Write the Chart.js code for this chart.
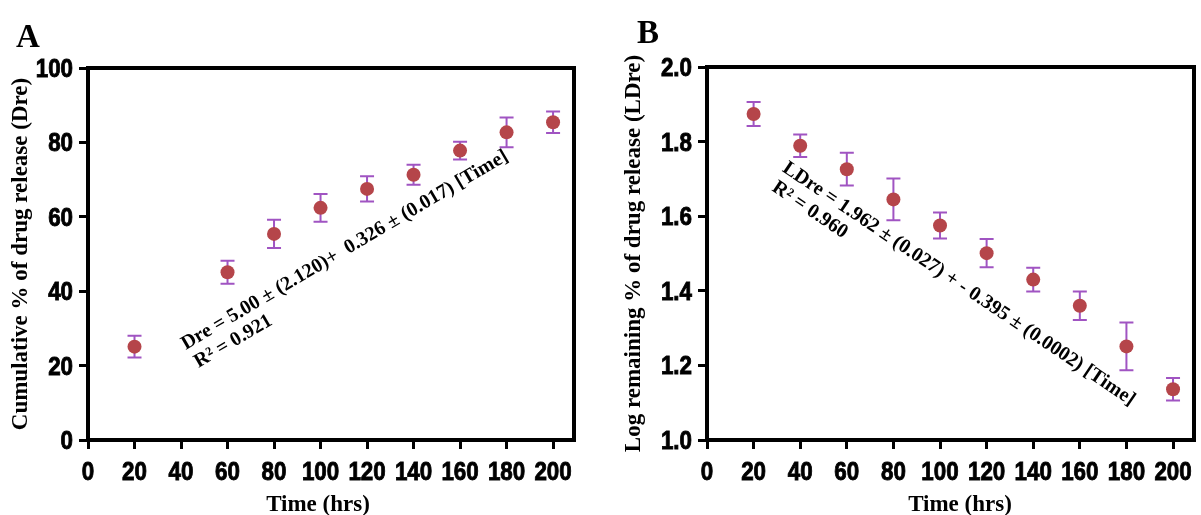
<!DOCTYPE html>
<html>
<head>
<meta charset="utf-8">
<script src="https://cdn.jsdelivr.net/npm/chart.js@4.4.1/dist/chart.umd.min.js"></script>
<style>
  html, body { margin: 0; padding: 0; background: #fff; }
  #wrap { position: relative; width: 1201px; height: 515px; }
  .panel { position: absolute; top: 0; height: 515px; }
  #boxA { left: 0; width: 600px; }
  #boxB { left: 600px; width: 601px; }
</style>
</head>
<body>
<div id="wrap">
  <div class="panel" id="boxA"><canvas id="chartA"></canvas></div>
  <div class="panel" id="boxB"><canvas id="chartB"></canvas></div>
</div>
<script>
// zero order (A) - no sample at 40 hrs
const timeA = [20, 60, 80, 100, 120, 140, 160, 180, 200];
const dreA = [25.1, 45.1, 55.4, 62.4, 67.5, 71.3, 77.8, 82.7, 85.4];
const errA = [2.9, 3.1, 3.8, 3.7, 3.4, 2.7, 2.4, 4.0, 2.9];

// first order (B)
const timeB = [20, 40, 60, 80, 100, 120, 140, 160, 180, 200];
const ldreB = [1.874, 1.789, 1.726, 1.645, 1.575, 1.501, 1.430, 1.360, 1.251, 1.136];
const errB = [0.032, 0.030, 0.044, 0.056, 0.035, 0.038, 0.032, 0.038, 0.064, 0.030];

// tick labels
const xTicks = [0, 20, 40, 60, 80, 100, 120, 140, 160, 180, 200];
const yTicksA = [0, 20, 40, 60, 80, 100];
const yTicksB = [1.0, 1.2, 1.4, 1.6, 1.8, 2.0];

const serif = "'Liberation Serif', 'Times New Roman', serif";
const sans = "'Liberation Sans', Arial, sans-serif";
const titleFont = { family: serif, size: 23, weight: 'bold', lineHeight: 1 };

const pointColor = '#b5454a';
const barColor = '#a054c2';

// vertical error bars with caps
const errorBars = {
  id: 'errorBars',
  beforeDatasetsDraw(chart) {
    const ctx = chart.ctx, xs = chart.scales.x, ys = chart.scales.y;
    chart.data.datasets.forEach(ds => {
      if (!ds.errors) return;
      ctx.save();
      ctx.strokeStyle = barColor;
      ctx.lineWidth = 2;
      ds.data.forEach((p, i) => {
        const x = xs.getPixelForValue(p.x);
        const y1 = ys.getPixelForValue(p.y + ds.errors[i]);
        const y2 = ys.getPixelForValue(p.y - ds.errors[i]);
        ctx.beginPath();
        ctx.moveTo(x, y1); ctx.lineTo(x, y2);
        ctx.moveTo(x - 7, y1); ctx.lineTo(x + 7, y1);
        ctx.moveTo(x - 7, y2); ctx.lineTo(x + 7, y2);
        ctx.stroke();
      });
      ctx.restore();
    });
  }
};

// box round the plot area
const frame = {
  id: 'frame',
  afterDraw(chart) {
    const a = chart.chartArea, ctx = chart.ctx;
    ctx.save();
    ctx.strokeStyle = '#000';
    ctx.lineWidth = 4;
    ctx.strokeRect(a.left, a.top, a.right - a.left, a.bottom - a.top);
    ctx.restore();
  }
};

// squeezed heavy tick labels + x title
const tickLabels = {
  id: 'tickLabels',
  afterDraw(chart, args, opts) {
    const ctx = chart.ctx, xs = chart.scales.x, ys = chart.scales.y, a = chart.chartArea;
    ctx.save();
    ctx.fillStyle = '#000';
    ctx.strokeStyle = '#000';
    ctx.lineWidth = 0.9;
    ctx.font = 'bold 26px ' + sans;
    ctx.textBaseline = 'alphabetic';
    const put = (txt, x, y, align) => {
      ctx.save();
      ctx.translate(x, y);
      ctx.scale(0.86, 1);
      ctx.textAlign = align;
      ctx.fillText(txt, 0, 0);
      ctx.strokeText(txt, 0, 0);
      ctx.restore();
    };
    xs.ticks.forEach(t => put(String(t.value), xs.getPixelForValue(t.value), a.bottom + 40, 'center'));
    ys.ticks.forEach(t => put(opts.fmt(t.value), a.left - 15, ys.getPixelForValue(t.value) + 9, 'right'));

    ctx.font = 'bold 23px ' + serif;
    ctx.textAlign = 'center';
    ctx.fillText('Time (hrs)', opts.titleX, 511);
    ctx.restore();
  }
};

// rotated equation, order label, panel letter
const notes = {
  id: 'notes',
  afterDatasetsDraw(chart, args, opts) {
    const ctx = chart.ctx, xs = chart.scales.x, ys = chart.scales.y;
    ctx.save();
    ctx.fillStyle = '#000';
    ctx.textBaseline = 'alphabetic';
    opts.items.forEach(t => {
      ctx.save();
      ctx.translate(xs.getPixelForValue(t.x), ys.getPixelForValue(t.y));
      ctx.rotate(t.angle * Math.PI / 180);
      ctx.font = t.font;
      t.lines.forEach((line, k) => ctx.fillText(line, k * (t.shift || 0), k * (t.lead || 0)));
      ctx.restore();
    });
    ctx.font = 'bold 33px ' + serif;
    ctx.fillText(opts.letter, opts.lx, opts.ly);
    ctx.restore();
  }
};

function makeAxes(yTicks, yMin, yMax, yTitle, yWidth, yTitlePad) {
  return {
    x: {
      type: 'linear', min: 0, max: 209,
      afterBuildTicks: s => { s.ticks = xTicks.map(v => ({ value: v })); },
      afterFit: s => { s.height = 75; },
      grid: { drawOnChartArea: false, drawTicks: true, tickLength: 9, tickWidth: 3, tickColor: '#000' },
      border: { display: true, color: '#000', width: 4 },
      ticks: { display: false },
      title: { display: false }
    },
    y: {
      type: 'linear', min: yMin, max: yMax,
      afterBuildTicks: s => { s.ticks = yTicks.map(v => ({ value: v })); },
      afterFit: s => { s.width = yWidth; },
      grid: { drawOnChartArea: false, drawTicks: true, tickLength: 9, tickWidth: 3, tickColor: '#000' },
      border: { display: true, color: '#000', width: 4 },
      ticks: { display: false },
      title: { display: true, text: yTitle, color: '#000', font: titleFont, padding: { top: yTitlePad, bottom: 0 } }
    }
  };
}

function dataset(times, vals, errs) {
  return {
    data: times.map((t, i) => ({ x: t, y: vals[i] })),
    errors: errs,
    showLine: false,
    pointStyle: 'circle',
    pointRadius: 7,
    pointHoverRadius: 7,
    backgroundColor: pointColor,
    borderWidth: 0
  };
}

new Chart(document.getElementById('chartA'), {
  type: 'scatter',
  data: { datasets: [dataset(timeA, dreA, errA)] },
  options: {
    responsive: true, maintainAspectRatio: false, animation: false,
    layout: { padding: { left: 0, top: 68, right: 26, bottom: 0 } },
    scales: makeAxes(yTicksA, 0, 100, 'Cumulative % of drug release (Dre)', 88, 10),
    plugins: {
      legend: { display: false }, tooltip: { enabled: false },
      tickLabels: { fmt: v => String(v), titleX: 318 },
      notes: {
        letter: 'A', lx: 16, ly: 47,
        items: [
          { x: 42, y: 24.2, angle: -30.5, font: 'bold 20px ' + serif, lead: 22, shift: 2,
            lines: ['Dre = 5.00 \u00b1 (2.120)+  0.326 \u00b1 (0.017) [Time]', 'R\u00b2 = 0.921'] },
          { x: 79, y: 10.8, angle: 0, font: 'bold 34px ' + serif, lines: ['Zero order'] }
        ]
      }
    }
  },
  plugins: [errorBars, frame, tickLabels, notes]
});

new Chart(document.getElementById('chartB'), {
  type: 'scatter',
  data: { datasets: [dataset(timeB, ldreB, errB)] },
  options: {
    responsive: true, maintainAspectRatio: false, animation: false,
    layout: { padding: { left: 0, top: 67, right: 2, bottom: 0 } },
    scales: makeAxes(yTicksB, 1.0, 2.0, 'Log remaining % of drug release (LDre)', 107, 23),
    plugins: {
      legend: { display: false }, tooltip: { enabled: false },
      tickLabels: { fmt: v => v.toFixed(1), titleX: 360 },
      notes: {
        letter: 'B', lx: 37, ly: 43,
        items: [
          { x: 32, y: 1.722, angle: 34, font: 'bold 20px ' + serif, lead: 22, shift: 2,
            lines: ['LDre = 1.962 \u00b1 (0.027) + - 0.395 \u00b1 (0.0002) [Time]', 'R\u00b2 = 0.960'] },
          { x: 81, y: 1.089, angle: 0, font: 'bold 34px ' + serif, lines: ['First order'] }
        ]
      }
    }
  },
  plugins: [errorBars, frame, tickLabels, notes]
});
</script>
</body>
</html>
